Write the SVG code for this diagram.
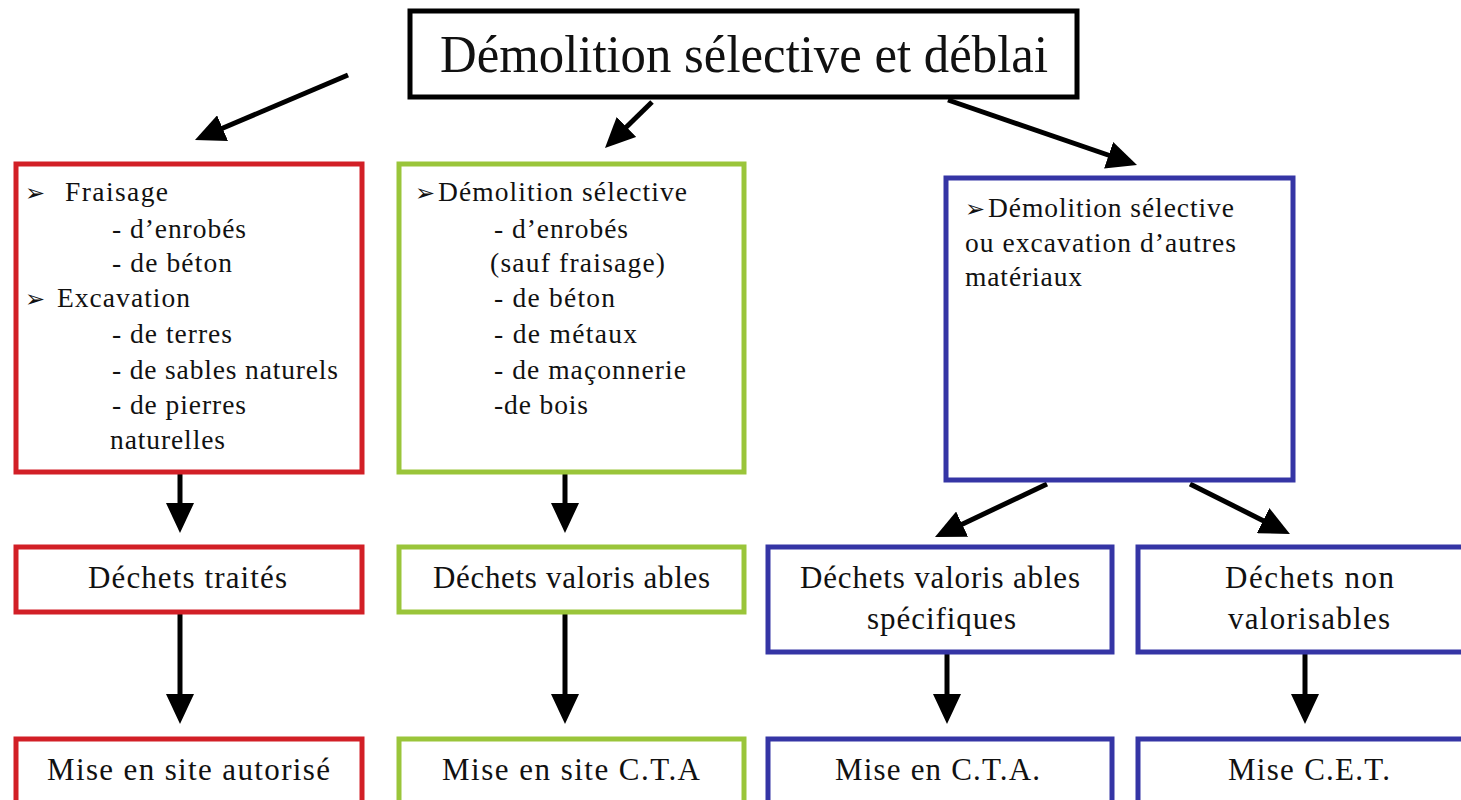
<svg xmlns="http://www.w3.org/2000/svg" width="1461" height="800" viewBox="0 0 1461 800">
<defs>
<style>
.box{fill:#fff;stroke-width:5}
.r{stroke:#d21f26}.g{stroke:#9ac53a}.b{stroke:#3535a5}.k{stroke:#000}
text{font-family:"Liberation Serif","Times New Roman",serif;fill:#111}
.t{font-size:27.5px}
.m{font-size:31px}
.bul{font-family:"DejaVu Sans",sans-serif;font-size:24px}
.arr{stroke:#000;stroke-width:5;fill:none;marker-end:url(#ah)}
</style>
<marker id="ah" markerUnits="userSpaceOnUse" markerWidth="30" markerHeight="28" viewBox="0 0 30 28" refX="4" refY="14" orient="auto">
<path d="M0,0 L30,14 L0,28 z" fill="#000"/>
</marker>
</defs>
<rect width="1461" height="800" fill="#fff"/>

<g id="connectors">
<line class="arr" x1="348" y1="75" x2="218.9" y2="129.8"/>
<line class="arr" x1="652" y1="102" x2="623.6" y2="129.8"/>
<line class="arr" x1="948" y1="100" x2="1112.4" y2="156.5"/>
<line class="arr" x1="180" y1="472" x2="180" y2="507"/>
<line class="arr" x1="565" y1="472" x2="565" y2="507"/>
<line class="arr" x1="180" y1="612" x2="180" y2="698"/>
<line class="arr" x1="565" y1="612" x2="565" y2="698"/>
<line class="arr" x1="1047" y1="484" x2="958.5" y2="525.9"/>
<line class="arr" x1="1190" y1="484" x2="1266.7" y2="522.4"/>
<line class="arr" x1="947" y1="652" x2="947" y2="698"/>
<line class="arr" x1="1305" y1="652" x2="1305" y2="698"/>
</g>

<g id="title">
<rect class="box k" x="410" y="11" width="667" height="86"/>
<text x="440" y="72" font-size="52" textLength="608" lengthAdjust="spacingAndGlyphs">Démolition sélective et déblai</text>
</g>

<g id="fraisage">
<rect class="box r" x="16" y="164" width="346" height="308"/>
<text class="bul" x="25" y="201">➢</text>
<text class="t" x="65" y="201" textLength="103">Fraisage</text>
<text class="t" x="112" y="238" textLength="134">- d’enrobés</text>
<text class="t" x="112" y="272" textLength="120">- de béton</text>
<text class="bul" x="25" y="307">➢</text>
<text class="t" x="57" y="307" textLength="133">Excavation</text>
<text class="t" x="112" y="343" textLength="120">- de terres</text>
<text class="t" x="112" y="379" textLength="226">- de sables naturels</text>
<text class="t" x="112" y="414" textLength="134">- de pierres</text>
<text class="t" x="110" y="449" textLength="115">naturelles</text>
</g>

<g id="demolition">
<rect class="box g" x="399" y="164" width="345" height="308"/>
<text class="bul" x="415" y="201">➢</text>
<text class="t" x="438" y="201" textLength="249">Démolition sélective</text>
<text class="t" x="494" y="238" textLength="134">- d’enrobés</text>
<text class="t" x="490" y="272" textLength="175">(sauf fraisage)</text>
<text class="t" x="494" y="307" textLength="121">-  de béton</text>
<text class="t" x="494" y="343" textLength="143">-  de métaux</text>
<text class="t" x="494" y="379" textLength="192">-  de maçonnerie</text>
<text class="t" x="494" y="414" textLength="94">-de bois</text>
</g>

<g id="autres">
<rect class="box b" x="946" y="178" width="347" height="302"/>
<text class="bul" x="965" y="217">➢</text>
<text class="t" x="988" y="217" textLength="246">Démolition sélective</text>
<text class="t" x="965" y="252" textLength="271">ou excavation d’autres</text>
<text class="t" x="965" y="286" textLength="117">matériaux</text>
</g>

<g id="traites">
<rect class="box r" x="16" y="547" width="346" height="65"/>
<text class="m" x="88" y="588" textLength="199">Déchets traités</text>
</g>

<g id="valorisables">
<rect class="box g" x="399" y="547" width="345" height="65"/>
<text class="m" x="433" y="588" textLength="277">Déchets valoris ables</text>
</g>

<g id="specifiques">
<rect class="box b" x="768" y="547" width="344" height="105"/>
<text class="m" x="800" y="588" textLength="280">Déchets valoris ables</text>
<text class="m" x="867" y="629" textLength="149">spécifiques</text>
</g>

<g id="nonvalorisables">
<rect class="box b" x="1138" y="547" width="330" height="105"/>
<text class="m" x="1225" y="588" textLength="169">Déchets non</text>
<text class="m" x="1228" y="629" textLength="162">valorisables</text>
</g>

<g id="siteautorise">
<rect class="box r" x="16" y="739" width="346" height="70"/>
<text class="m" x="47" y="780" textLength="283">Mise en site autorisé</text>
</g>

<g id="sitecta">
<rect class="box g" x="399" y="739" width="345" height="70"/>
<text class="m" x="442" y="780" textLength="258">Mise en site C.T.A</text>
</g>

<g id="miseencta">
<rect class="box b" x="768" y="739" width="344" height="70"/>
<text class="m" x="835" y="780" textLength="205">Mise en C.T.A.</text>
</g>

<g id="misecet">
<rect class="box b" x="1138" y="739" width="330" height="70"/>
<text class="m" x="1228" y="780" textLength="162">Mise C.E.T.</text>
</g>
</svg>
